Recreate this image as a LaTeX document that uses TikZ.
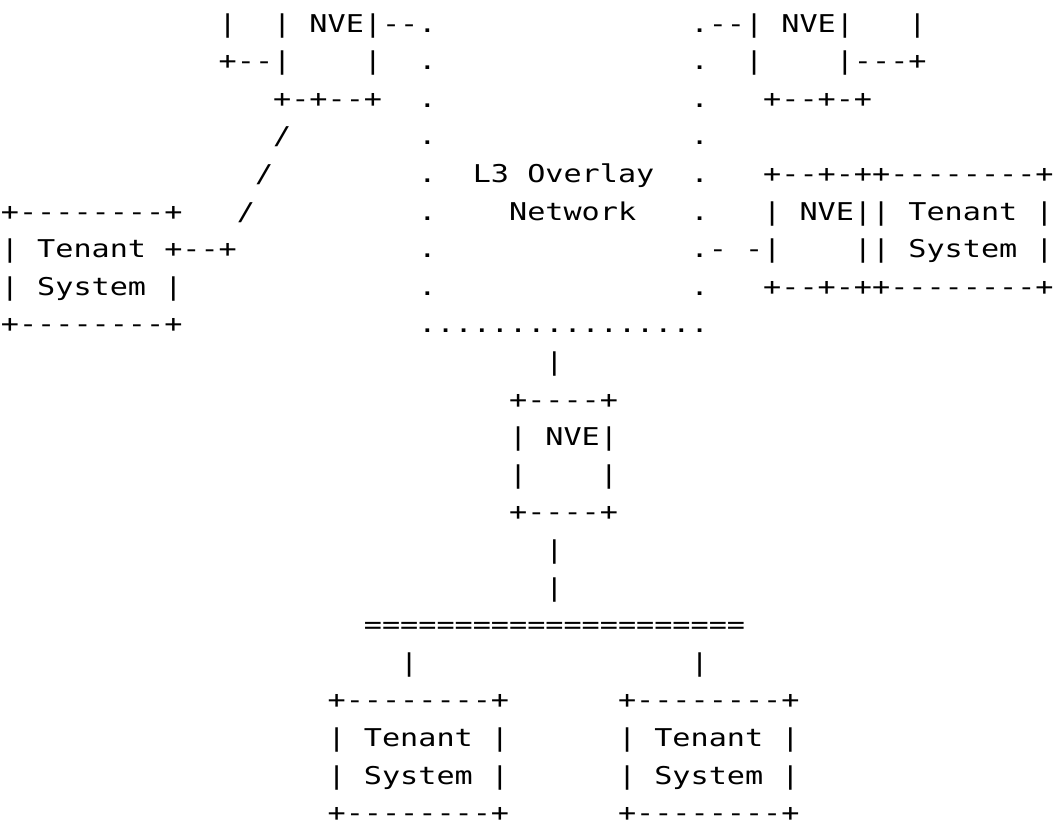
\documentclass[tikz,border=0pt]{standalone}
\usepackage{fontspec}
\setmonofont{DejaVu Sans Mono}[FakeStretch=1.2306]
\usetikzlibrary{positioning}
\definecolor{cink}{HTML}{000000}
% keep runs of spaces inside a line of the drawing
\newcommand{\asc}{\begingroup\obeyspaces\ascaux}
\newcommand{\ascaux}[1]{#1\endgroup}
\tikzset{
  every picture/.style={x=18.15pt, y=-37.6pt},
  ascii/.style={anchor=base west, inner sep=0pt, outer sep=0pt, text=cink,
    font=\ttfamily\fontsize{24.5}{30}\selectfont\frenchspacing},
}
\begin{document}
\begin{tikzpicture}
  \useasboundingbox (-0.0512,-0.8511) rectangle (57.965,20.931);
  % L3 overlay network, dotted edges
  \foreach \r in {0,...,7} {
    \node[ascii] (dotL\r) at (23,\r) {\asc{.}};
    \node[ascii] (dotR\r) at (38,\r) {\asc{.}};
  }
  \node[ascii] (dotB) at (23,8) {\asc{................}};
  \node[ascii] (net0) at (26,4) {\asc{L3 Overlay}};
  \node[ascii] (net1) at (28,5) {\asc{Network}};
  % upper left NVE and its link to the left tenant system
  \node[ascii] (nveA0) at (12,0) {\asc{|  | NVE|--}};
  \node[ascii] (nveA1) at (12,1) {\asc{+--|    |}};
  \node[ascii] (nveA2) at (15,2) {\asc{+-+--+}};
  \node[ascii] (slash0) at (15,3) {\asc{/}};
  \node[ascii] (slash1) at (14,4) {\asc{/}};
  \node[ascii] (slash2) at (13,5) {\asc{/}};
  \node[ascii] (tsA0) at (0,5) {\asc{+--------+}};
  \node[ascii] (tsA1) at (0,6) {\asc{| Tenant +--+}};
  \node[ascii] (tsA2) at (0,7) {\asc{| System |}};
  \node[ascii] (tsA3) at (0,8) {\asc{+--------+}};
  % upper right NVE
  \node[ascii] (nveB0) at (39,0) {\asc{--| NVE|   |}};
  \node[ascii] (nveB1) at (41,1) {\asc{|    |---+}};
  \node[ascii] (nveB2) at (42,2) {\asc{+--+-+}};
  % right NVE with its tenant system
  \node[ascii] (nveC0) at (42,4) {\asc{+--+-++--------+}};
  \node[ascii] (nveC1) at (42,5) {\asc{| NVE|| Tenant |}};
  \node[ascii] (nveC2) at (39,6) {\asc{- -|    || System |}};
  \node[ascii] (nveC3) at (42,7) {\asc{+--+-++--------+}};
  % lower NVE
  \node[ascii] (up0) at (30,9) {\asc{|}};
  \node[ascii] (nveD0) at (28,10) {\asc{+----+}};
  \node[ascii] (nveD1) at (28,11) {\asc{| NVE|}};
  \node[ascii] (nveD2) at (28,12) {\asc{|    |}};
  \node[ascii] (nveD3) at (28,13) {\asc{+----+}};
  \foreach \r in {14,15} \node[ascii] (dn\r) at (30,\r) {\asc{|}};
  \node[ascii] (lan) at (20,16) {\asc{=====================}};
  % lower tenant systems
  \foreach \c/\n in {22/D,38/E} \node[ascii] (drop\n) at (\c,17) {\asc{|}};
  \foreach \c/\n in {18/D,34/E} {
    \node[ascii] (ts\n0) at (\c,18) {\asc{+--------+}};
    \node[ascii] (ts\n1) at (\c,19) {\asc{| Tenant |}};
    \node[ascii] (ts\n2) at (\c,20) {\asc{| System |}};
    \node[ascii] (ts\n3) at (\c,21) {\asc{+--------+}};
  }
\end{tikzpicture}
\end{document}
